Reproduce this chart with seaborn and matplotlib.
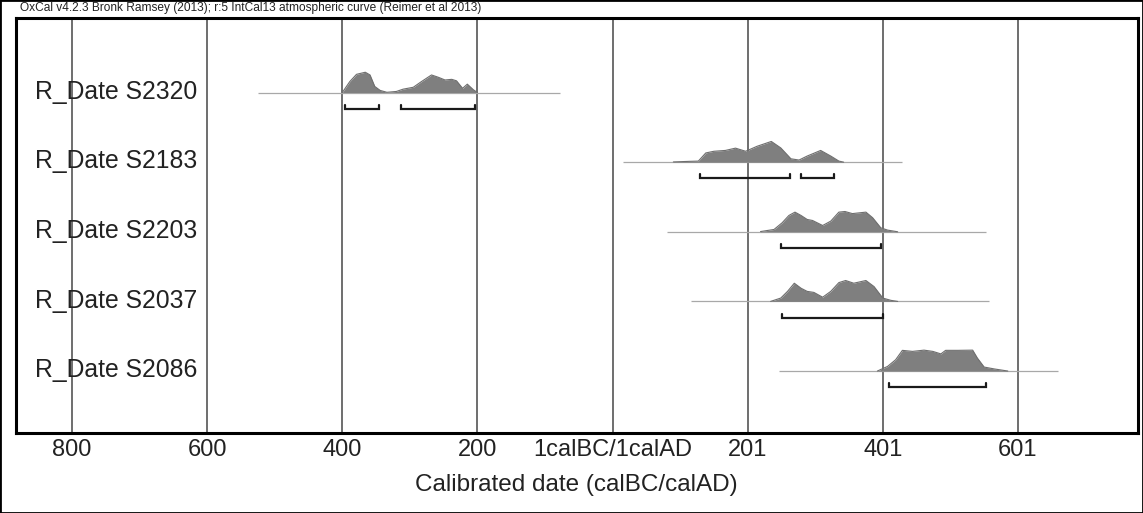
import numpy as np
import pandas as pd
import matplotlib
matplotlib.use("Agg")
import matplotlib.pyplot as plt
import matplotlib.transforms as mtransforms
from matplotlib.patches import Rectangle
from matplotlib.ticker import MultipleLocator
import seaborn as sns

# sample names, top to bottom
names = ["R_Date S2320", "R_Date S2183", "R_Date S2203", "R_Date S2037", "R_Date S2086"]

# posterior densities (year: BC negative, relative probability)
s2320_yr = [-400, -389, -379, -366, -359, -352, -344, -334, -320, -310, -295, -283, -268, -258, -248, -238, -231, -222, -215, -206, -200]
s2320_p = [0.00, 0.52, 0.87, 0.97, 0.84, 0.29, 0.10, 0.01, 0.05, 0.16, 0.25, 0.52, 0.84, 0.73, 0.60, 0.63, 0.56, 0.20, 0.40, 0.13, 0.00]
s2183_yr = [90, 116, 127, 138, 150, 167, 182, 197, 214, 235, 249, 264, 276, 288, 308, 323, 335, 342]
s2183_p = [0.01, 0.04, 0.05, 0.44, 0.52, 0.56, 0.67, 0.52, 0.76, 0.99, 0.68, 0.16, 0.10, 0.29, 0.56, 0.29, 0.05, 0.00]
s2203_yr = [219, 239, 251, 261, 270, 279, 288, 296, 311, 323, 335, 344, 355, 375, 385, 397, 407, 422]
s2203_p = [0.01, 0.11, 0.43, 0.78, 0.94, 0.78, 0.59, 0.54, 0.30, 0.51, 0.94, 0.97, 0.87, 0.94, 0.67, 0.19, 0.08, 0.00]
s2037_yr = [234, 249, 259, 269, 279, 288, 298, 311, 323, 335, 345, 357, 375, 387, 400, 412, 422]
s2037_p = [0.00, 0.16, 0.48, 0.87, 0.63, 0.48, 0.43, 0.20, 0.48, 0.90, 1.00, 0.87, 1.00, 0.71, 0.16, 0.05, 0.00]
s2086_yr = [392, 407, 419, 429, 444, 461, 474, 486, 493, 511, 533, 540, 550, 565, 585]
s2086_p = [0.00, 0.22, 0.54, 0.99, 0.94, 1.00, 0.94, 0.82, 0.99, 0.99, 1.00, 0.62, 0.19, 0.10, 0.00]

# extent of the thin baseline for each date
span_lo = [-525, 16, 81, 116, 246]
span_hi = [-78, 428, 553, 557, 659]

# 95.4% ranges
ranges = [
    [(-396, -345), (-313, -204)],
    [(130, 262), (279, 328)],
    [(250, 397)],
    [(251, 400)],
    [(409, 553)],
]

tick_pos = [-800, -600, -400, -200, 0, 200, 400, 600]
tick_lab = ["800", "600", "400", "200", "1calBC/1calAD", "201", "401", "601"]

dens_yr = [s2320_yr, s2183_yr, s2203_yr, s2037_yr, s2086_yr]
dens_p = [s2320_p, s2183_p, s2203_p, s2037_p, s2086_p]

rows = []
for i, (yr, p) in enumerate(zip(dens_yr, dens_p)):
    for a, b in zip(yr, p):
        rows.append({"name": names[i], "row": i, "year": a, "prob": b})
df = pd.DataFrame(rows)
h_scale = 0.30
df["y"] = df["row"] - df["prob"] * h_scale

sns.set_theme(style="white")
plt.rcParams["font.family"] = ["Liberation Sans", "DejaVu Sans"]

fig = plt.figure(figsize=(11.43, 5.13), dpi=100)
ax = fig.add_axes([16 / 1143, 80 / 513, 1121.5 / 1143, 415 / 513])

# thin baselines
ax.hlines(range(len(names)), span_lo, span_hi, color="#a8a8a8", lw=0.9, zorder=2)

# filled densities
for i, name in enumerate(names):
    d = df[df["name"] == name]
    ax.fill_between(d["year"], d["row"], d["y"], color="#7f7f7f", lw=0, zorder=3)
sns.lineplot(data=df, x="year", y="y", units="name", estimator=None, sort=False,
             color="#6e6e6e", lw=0.8, ax=ax, zorder=4, legend=False)

# range brackets
off, tip = 0.235, 0.06
for i, rr in enumerate(ranges):
    for a, b in rr:
        ax.plot([a, a, b, b], [i + off - tip, i + off, i + off, i + off - tip],
                color="#1a1a1a", lw=1.6, solid_joinstyle="miter", zorder=5)

trans = mtransforms.blended_transform_factory(ax.transAxes, ax.transData)
for i, name in enumerate(names):
    ax.text(19 / 1121.5, i + 0.09, name, transform=trans, fontsize=17.8,
            color="#222222", va="baseline", ha="left")

ax.set_xlim(-883, 777)
ax.set_ylim(4.89, -1.07)
ax.set_xticks(tick_pos)
ax.set_xticklabels(tick_lab)
ax.xaxis.set_minor_locator(MultipleLocator(20))
ax.set_yticks([])
ax.set_xlabel("Calibrated date (calBC/calAD)", fontsize=17.5, color="#222222", labelpad=10)
ax.set_ylabel("")
ax.tick_params(axis="x", which="major", direction="in", length=7, width=1.2,
               labelsize=17, labelcolor="#222222", pad=4, color="black")
ax.tick_params(axis="x", which="minor", direction="in", length=3.5, width=1.0, color="black")
ax.grid(True, axis="x", which="major", color="#555555", lw=1.2, zorder=1)
ax.set_axisbelow(True)
for sp in ax.spines.values():
    sp.set_visible(True)
    sp.set_color("black")
    sp.set_linewidth(2.2)

fig.text(20 / 1143, 1 - 2 / 513, "OxCal v4.2.3 Bronk Ramsey (2013); r:5 IntCal13 atmospheric curve (Reimer et al 2013)",
         fontsize=8.6, color="#222222", va="top", ha="left")
fig.patches.append(Rectangle((0, 0), 1, 1, transform=fig.transFigure, fill=False,
                             edgecolor="black", lw=2.0))

fig.savefig("out.png", dpi=100, facecolor="white")
